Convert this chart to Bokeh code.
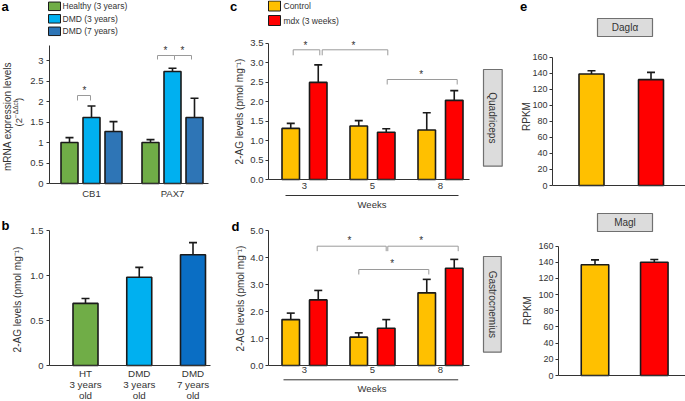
import math
from bokeh.plotting import figure
from bokeh.layouts import row, column
from bokeh.models import (LinearAxis, FixedTicker, Whisker, TeeHead, Label, Arrow,
                          ColumnDataSource, Range1d, NumeralTickFormatter)
from bokeh.embed import file_html
from bokeh.resources import INLINE
from bokeh.core.properties import value

# ---------------- data ----------------
# panel a : mRNA expression (2^-ddct)
a_genes = ["CB1", "PAX7"]
a_series = ["Healthy (3 years)", "DMD (3 years)", "DMD (7 years)"]
a_healthy = [1.00, 1.00]
a_healthy_err = [0.12, 0.07]
a_dmd3 = [1.61, 2.73]
a_dmd3_err = [0.28, 0.08]
a_dmd7 = [1.27, 1.61]
a_dmd7_err = [0.24, 0.47]
a_yticks = [0, 0.5, 1, 1.5, 2, 2.5, 3]

# panel b : 2-AG levels in human samples
b_groups = ["HT\n3 years\nold", "DMD\n3 years\nold", "DMD\n7 years\nold"]
b_values = [0.69, 0.98, 1.23]
b_err = [0.055, 0.11, 0.135]
b_yticks = [0, 0.5, 1.0, 1.5]

# panels c / d : 2-AG levels in mice
cd_weeks = ["3", "5", "8"]
cd_series = ["Control", "mdx (3 weeks)"]
c_control = [1.31, 1.37, 1.27]
c_control_err = [0.13, 0.14, 0.44]
c_mdx = [2.49, 1.21, 2.03]
c_mdx_err = [0.45, 0.09, 0.25]
c_yticks = [0, 0.5, 1.0, 1.5, 2.0, 2.5, 3.0, 3.5]
d_control = [1.70, 1.05, 2.69]
d_control_err = [0.24, 0.16, 0.50]
d_mdx = [2.43, 1.38, 3.60]
d_mdx_err = [0.35, 0.32, 0.33]
d_yticks = [0, 1, 2, 3, 4, 5]

# panel e : RPKM
e_genes = ["Daglα", "Magl"]
e_control = [139, 137]
e_control_err = [4, 6]
e_mdx = [132, 140]
e_mdx_err = [9, 3.5]
e_yticks = [0, 20, 40, 60, 80, 100, 120, 140, 160]

# ---------------- style ----------------
SX = 1.0
SY = 1.0
FONT = "Liberation Sans"
INK = "#1a1a1a"
AXC = "#333333"
TXT = "#333333"
BRK = "#9a9a9a"
GREEN = "#70ad47"
LBLUE = "#00b0f0"
DBLUE = "#2e75b6"
DBLUE_B = "#0a6ec4"
YEL = "#ffc000"
RED = "#ff0000"
BOXF = "#dcdcdc"
BOXL = "#707070"


def fs(px):
    return f"{px * SY:.1f}px"


def make_panel(tile, base, ppu):
    """Figure whose frame covers the whole tile; x data = reference pixels,
    y data = values (0 at the reference baseline `base`)."""
    tx0, ty0, tx1, ty1 = tile
    W = round(tx1 * SX) - round(tx0 * SX)
    H = round(ty1 * SY) - round(ty0 * SY)
    x1 = tx0 + W / SX
    y1 = ty0 + H / SY

    def Y(yref):
        return (base - yref) / ppu
    p = figure(width=W, height=H, x_range=Range1d(tx0, x1), y_range=Range1d(Y(y1), Y(ty0)),
               x_axis_type=None, y_axis_type=None, toolbar_location=None, output_backend="svg",
               min_border_left=0, min_border_right=0, min_border_top=0, min_border_bottom=0)
    p.outline_line_color = None
    p.background_fill_color = "white"
    p.border_fill_color = "white"
    return p, Y


def add_bars(p, xs, vals, errs, width, color):
    p.vbar(x=xs, top=vals, bottom=0, width=width, fill_color=color,
           line_color=INK, line_width=1.6)
    src = ColumnDataSource(dict(x=xs, lo=list(vals), hi=[v + e for v, e in zip(vals, errs)]))
    p.add_layout(Whisker(source=src, base="x", lower="lo", upper="hi", dimension="height",
                         line_color=INK, line_width=1.6, lower_head=None,
                         upper_head=TeeHead(size=8 * SX, line_color=INK, line_width=1.6)))


def add_yaxis(p, xpos, ticks, top, fmt, size, standoff=3, overrides=None):
    ax = LinearAxis(ticker=FixedTicker(ticks=ticks), formatter=NumeralTickFormatter(format=fmt),
                    bounds=(0, top), fixed_location=xpos, major_tick_out=3, major_tick_in=0,
                    minor_tick_out=0, minor_tick_in=0, major_label_standoff=standoff,
                    axis_line_color=AXC, axis_line_width=1, major_tick_line_color=AXC,
                    major_label_text_font=FONT, major_label_text_font_size=fs(size),
                    major_label_text_color=TXT)
    if overrides:
        ax.major_label_overrides = overrides
    p.add_layout(ax, "left")


def add_xaxis(p, ticks, labels, bounds, size=9.5, standoff=3):
    ax = LinearAxis(ticker=FixedTicker(ticks=ticks), bounds=bounds, fixed_location=0,
                    major_tick_out=0, major_tick_in=0, minor_tick_out=0, minor_tick_in=0,
                    major_label_standoff=standoff, axis_line_color=AXC, axis_line_width=1,
                    major_label_text_font=FONT, major_label_text_font_size=fs(size),
                    major_label_text_color=TXT)
    if labels:
        ax.major_label_overrides = dict(zip(ticks, labels))
    p.add_layout(ax, "below")


def label(p, x, y, text, size, angle=0.0, bold=False, align="center", color=TXT):
    p.add_layout(Label(x=x, y=y, text=text, angle=angle, text_font=FONT,
                       text_font_size=fs(size), text_font_style="bold" if bold else "normal",
                       text_align=align, text_baseline="middle", text_color=color))


def brackets(p, Y, spans):
    xs, ys = [], []
    for x0, x1, y, drop in spans:
        xs.append([x0, x0, x1, x1])
        ys.append([Y(y + drop), Y(y), Y(y), Y(y + drop)])
    p.multi_line(xs=xs, ys=ys, line_color=BRK, line_width=1)


def stars(p, Y, pts, size=10):
    p.text(x=[q[0] for q in pts], y=[Y(q[1] + 2) for q in pts], text=["*"] * len(pts),
           text_align="center", text_baseline="middle", text_font=value(FONT),
           text_font_size=value(fs(size)), text_color=TXT)


def legend(p, Y, xsq, rows, colors, labels, w, h, xtxt, size=8.5):
    p.rect(x=[xsq] * len(rows), y=[Y(r) for r in rows], width=w * SX, height=h * SY,
           width_units="screen", height_units="screen", fill_color=colors,
           line_color=INK, line_width=1)
    p.text(x=[xtxt] * len(rows), y=[Y(r) for r in rows], text=labels, text_align="left",
           text_baseline="middle", text_font=value(FONT), text_font_size=value(fs(size)),
           text_color=TXT)


def side_box(p, Y, x0, x1, y0, y1, text, vertical):
    p.quad(left=[x0], right=[x1], top=[Y(y0)], bottom=[Y(y1)], fill_color=BOXF,
           line_color=BOXL, line_width=1.2)
    p.text(x=[(x0 + x1) / 2], y=[Y((y0 + y1) / 2)], text=[text],
           angle=-math.pi / 2 if vertical else 0.0, text_align="center",
           text_baseline="middle", text_font=value(FONT), text_font_size=value(fs(10)),
           text_color=TXT)


def hline(p, Y, x0, x1, y):
    p.add_layout(Arrow(x_start=x0, y_start=Y(y), x_end=x1, y_end=Y(y), start=None, end=None,
                       line_color=AXC, line_width=1))


# ---------------- panel a ----------------
pA, YA = make_panel((0, 0, 218, 200), 183, 41.0)
A_C0, A_GSTEP, A_BSTEP, A_W = 91, 81, 22, 17
a_centers = [A_C0 + g * A_GSTEP for g in range(len(a_genes))]
for j, (vals, errs, col) in enumerate(zip([a_healthy, a_dmd3, a_dmd7],
                                          [a_healthy_err, a_dmd3_err, a_dmd7_err],
                                          [GREEN, LBLUE, DBLUE])):
    add_bars(pA, [c + (j - 1) * A_BSTEP for c in a_centers], vals, errs, A_W, col)
add_yaxis(pA, 49, a_yticks, YA(45), "0.[0]", 9.5, standoff=3)
add_xaxis(pA, a_centers, a_genes, (49, 208), 9.5, standoff=4)
brackets(pA, YA, [(77, 90, 95, 5), (157, 174, 55, 4), (174, 191, 55, 4)])
stars(pA, YA, [(84, 88), (165, 47.5), (182, 47.5)])
legend(pA, YA, 54, [5.8, 18.3, 30.8], [GREEN, LBLUE, DBLUE], a_series, 12, 8.5, 62)
label(pA, 4.5, YA(5.5), "a", 13, bold=True, color="#000000")
label(pA, 6.5, YA(116), "mRNA expression levels", 10, angle=math.pi / 2)
label(pA, 17.5, YA(126), "(2", 9.5, angle=math.pi / 2, align="left")
label(pA, 14.5, YA(117.5), "−ΔΔct", 6.5, angle=math.pi / 2, align="left")
label(pA, 17.5, YA(100.6), ")", 9.5, angle=math.pi / 2, align="left")

# ---------------- panel b ----------------
pB, YB = make_panel((0, 200, 218, 401), 365, 90.0)
B_C0, B_STEP, B_W = 85, 53.75, 25
b_x = [B_C0 + i * B_STEP for i in range(len(b_groups))]
add_bars(pB, b_x, b_values, b_err, B_W, [GREEN, LBLUE, DBLUE_B])
add_yaxis(pB, 49, b_yticks, 1.5, "0.0", 9.5, standoff=3, overrides={0: "0"})
add_xaxis(pB, [], None, (49, 210))
for xi, grp in zip(b_x, b_groups):
    for k, line in enumerate(grp.split("\n")):
        label(pB, xi, YB(373 + k * 11.2), line, 9.8)
label(pB, 5, YB(225), "b", 13, bold=True, color="#000000")
label(pB, 16.7, YB(299), "2-AG levels (pmol mg⁻¹)", 10, angle=math.pi / 2)

# ---------------- panel c ----------------
CD_C0, CD_GSTEP, CD_BOFF, CD_W = 304, 68, 13.75, 17.5
cd_centers = [CD_C0 + g * CD_GSTEP for g in range(len(cd_weeks))]

pC, YC = make_panel((218, 0, 510, 212), 179, 39.0)
add_bars(pC, [c - CD_BOFF for c in cd_centers], c_control, c_control_err, CD_W, YEL)
add_bars(pC, [c + CD_BOFF for c in cd_centers], c_mdx, c_mdx_err, CD_W, RED)
add_yaxis(pC, 268, c_yticks, 3.5, "0.0", 9.5, standoff=2)
add_xaxis(pC, cd_centers, cd_weeks, (268, 469), 9.5, standoff=3)
hline(pC, YC, 285, 458, 195)
label(pC, 371.5, YC(204), "Weeks", 9.5)
brackets(pC, YC, [(292.7, 319.3, 49.3, 5.5), (321.7, 387.3, 49.3, 5.5), (386.7, 456.7, 79, 5)])
stars(pC, YC, [(305, 42.5), (353, 42.5), (420.7, 71.5)])
side_box(pC, YC, 483, 501.7, 69, 165.7, "Quadriceps", True)
legend(pC, YC, 274, [5.5, 20], [YEL, RED], cd_series, 12, 10, 283)
label(pC, 233, YC(6), "c", 13, bold=True, color="#000000")
label(pC, 239, YC(111), "2-AG levels (pmol mg⁻¹)", 10, angle=math.pi / 2)

# ---------------- panel d ----------------
pD, YD = make_panel((218, 212, 510, 401), 365, 27.0)
add_bars(pD, [c - CD_BOFF for c in cd_centers], d_control, d_control_err, CD_W, YEL)
add_bars(pD, [c + CD_BOFF for c in cd_centers], d_mdx, d_mdx_err, CD_W, RED)
add_yaxis(pD, 268, d_yticks, 5, "0.0", 9.5, standoff=2)
add_xaxis(pD, cd_centers, cd_weeks, (268, 469), 9.5, standoff=1)
hline(pD, YD, 283, 457.7, 379.3)
label(pD, 371.5, YD(388), "Weeks", 9.5)
brackets(pD, YD, [(316.7, 385.7, 245.7, 5), (387.3, 457.7, 245.7, 5), (358.3, 428.3, 269, 5)])
stars(pD, YD, [(349, 238), (420.7, 238), (391.7, 261)])
side_box(pD, YD, 483, 500.7, 256, 351.7, "Gastrocnemius", True)
label(pD, 235, YD(226), "d", 13, bold=True, color="#000000")
label(pD, 239.5, YD(298), "2-AG levels (pmol mg⁻¹)", 10, angle=math.pi / 2)

# ---------------- panel e ----------------
pE1, YE1 = make_panel((510, 0, 685, 200), 185, 16.04 / 20)
E1_C0, E1_STEP, E1_W = 591, 59.5, 25
add_bars(pE1, [E1_C0, E1_C0 + E1_STEP], [e_control[0], e_mdx[0]],
         [e_control_err[0], e_mdx_err[0]], E1_W, [YEL, RED])
add_yaxis(pE1, 552, e_yticks, 160, "0", 9, standoff=2)
add_xaxis(pE1, [], None, (552, 685))
side_box(pE1, YE1, 597, 652, 18, 36, e_genes[0], False)
label(pE1, 523, YE1(6), "e", 13, bold=True, color="#000000")
label(pE1, 525.5, YE1(116), "RPKM", 10, angle=math.pi / 2)

pE2, YE2 = make_panel((510, 200, 685, 401), 375, 16.17 / 20)
E2_C0, E2_STEP, E2_W = 594.5, 59.3, 27.5
add_bars(pE2, [E2_C0, E2_C0 + E2_STEP], [e_control[1], e_mdx[1]],
         [e_control_err[1], e_mdx_err[1]], E2_W, [YEL, RED])
add_yaxis(pE2, 558, e_yticks, 160, "0", 9, standoff=2)
add_xaxis(pE2, [], None, (558, 685))
side_box(pE2, YE2, 597, 652, 213, 231, e_genes[1], False)
label(pE2, 527, YE2(310), "RPKM", 10, angle=math.pi / 2)

layout = row(column(pA, pB), column(pC, pD), column(pE1, pE2))
open("out.html", "w").write(file_html(layout, INLINE))
